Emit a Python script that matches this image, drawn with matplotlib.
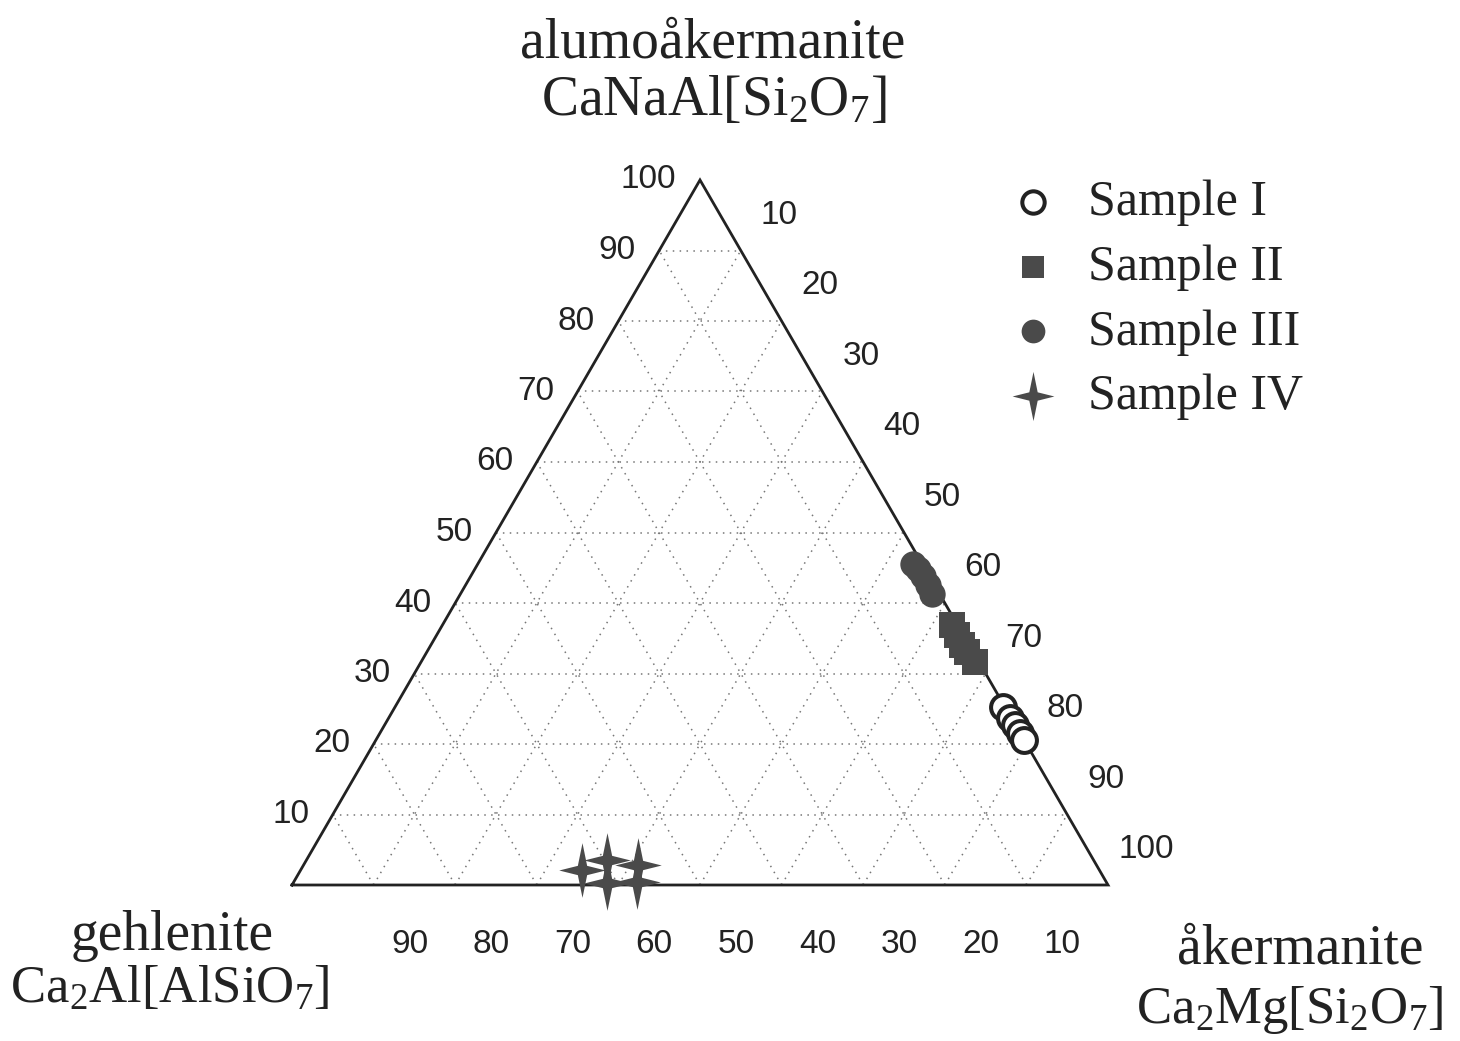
import numpy as np
import matplotlib.pyplot as plt
from matplotlib.path import Path

plt.rcParams['font.family'] = 'Liberation Serif'

# --- compositions in percent: alumoakermanite (top), akermanite (right); gehlenite = rest ---
s1_alumo = [25.3, 23.7, 22.7, 21.6, 20.6]
s1_aker = [74.5, 76.1, 77.3, 78.4, 79.4]
s2_alumo = [36.9, 35.5, 34.0, 33.0, 31.6]
s2_aker = [62.4, 63.7, 65.1, 66.2, 67.9]
s3_alumo = [45.6, 44.8, 43.9, 42.5, 41.3]
s3_aker = [53.3, 54.3, 55.4, 56.7, 57.8]
s4_alumo = [2.1, 3.6, 2.8, 0.3, 0.4]
s4_aker = [34.5, 36.8, 41.0, 38.5, 42.1]

sample_labels = ["Sample I", "Sample II", "Sample III", "Sample IV"]
ticks = [10, 20, 30, 40, 50, 60, 70, 80, 90, 100]
bottom_ticks = [90, 80, 70, 60, 50, 40, 30, 20, 10]

H = np.sqrt(3) / 2
INK = '#222222'
FILL = '#4a4a4a'
DOT = (0, (1, 3.5))


def to_xy(alumo, aker):
    a = np.asarray(alumo) / 100.0
    k = np.asarray(aker) / 100.0
    return k + a / 2, a * H


fig = plt.figure(figsize=(14.6, 10.41), dpi=100)
fig.set_facecolor('white')
W, Hpx = 1460, 1041
ax = fig.add_axes([292 / W, (Hpx - 885) / Hpx, 816 / W, 705 / Hpx])
ax.set_xlim(0, 1)
ax.set_ylim(0, H)
ax.axis('off')

# dotted grid every 10 %
for v in np.arange(0.1, 1.0, 0.1):
    # constant alumoakermanite (horizontal)
    ax.plot([v / 2, 1 - v / 2], [v * H, v * H], ls=DOT, color='#777777', lw=1.1)
    # constant gehlenite: bottom edge to left edge
    ax.plot([1 - v, (1 - v) / 2], [0, (1 - v) * H], ls=DOT, color='#777777', lw=1.1)
    # constant akermanite: bottom edge to right edge
    ax.plot([v, v + (1 - v) / 2], [0, (1 - v) * H], ls=DOT, color='#777777', lw=1.1)

# triangle outline
ax.plot([0, 1, 0.5, 0], [0, 0, H, 0], color=INK, lw=2.0, solid_joinstyle='miter', clip_on=False)

# tick labels
tick_font = dict(family='Liberation Sans', fontsize=24, color=INK)
for t in ticks:
    f = t / 100
    ax.text(f / 2 - 0.029, f * H, str(t), ha='right', va='center', clip_on=False, **tick_font)
    ax.text(0.5 + f / 2 + 0.047, (1 - f) * H + 0.043, str(t), ha='center', va='center',
            clip_on=False, **tick_font)
for t in bottom_ticks:
    ax.text(1 - t / 100 + 0.044, -0.0735, str(t), ha='center', va='center', clip_on=False,
            **tick_font)

# four-pointed star marker
star = Path([(0, 1), (0.17, 0.17), (0.85, 0), (0.17, -0.17), (0, -1), (-0.17, -0.17),
             (-0.85, 0), (-0.17, 0.17), (0, 1)],
            [Path.MOVETO] + [Path.LINETO] * 7 + [Path.CLOSEPOLY])

x1, y1 = to_xy(s1_alumo, s1_aker)
x2, y2 = to_xy(s2_alumo, s2_aker)
x3, y3 = to_xy(s3_alumo, s3_aker)
x4, y4 = to_xy(s4_alumo, s4_aker)

h1 = ax.scatter(x1, y1, s=320, marker='o', facecolor='white', edgecolor=INK, lw=2.9,
                clip_on=False, zorder=5, label=sample_labels[0])
h2 = ax.scatter(x2, y2, s=330, marker='s', color=FILL, lw=0, clip_on=False, zorder=5,
                label=sample_labels[1])
h3 = ax.scatter(x3, y3, s=360, marker='o', color=FILL, lw=0, clip_on=False, zorder=5,
                label=sample_labels[2])
h4 = ax.scatter(x4, y4, s=1550, marker=star, color=FILL, lw=0, clip_on=False, zorder=5,
                label=sample_labels[3])

ax.legend(handles=[h1, h2, h3, h4], loc='upper left', bbox_to_anchor=(1008 / W, 1 - 180 / Hpx),
          bbox_transform=fig.transFigure, frameon=False, fontsize=36, handlelength=1.0,
          handletextpad=0.6, labelspacing=0.36, borderpad=0, borderaxespad=0,
          scatterpoints=1, markerscale=0.9, labelcolor=INK)

# corner labels
lab = dict(fontsize=40, color=INK, ha='center', va='baseline')
fig.text(713 / W, 1 - 57 / Hpx, "alumoåkermanite", **lab)
fig.text(714 / W, 1 - 115 / Hpx, r"CaNaAl[Si$\mathregular{_2}$O$\mathregular{_7}$]", **lab)
fig.text(172 / W, 1 - 950 / Hpx, "gehlenite", **lab)
fig.text(170 / W, 1 - 1003 / Hpx, r"Ca$\mathregular{_2}$Al[AlSiO$\mathregular{_7}$]", fontsize=38,
         color=INK, ha='center', va='baseline')
fig.text(1300 / W, 1 - 963 / Hpx, "åkermanite", **lab)
fig.text(1290 / W, 1 - 1023 / Hpx, r"Ca$\mathregular{_2}$Mg[Si$\mathregular{_2}$O$\mathregular{_7}$]",
         fontsize=38, color=INK, ha='center', va='baseline')

fig.savefig('out.png', dpi=100)
